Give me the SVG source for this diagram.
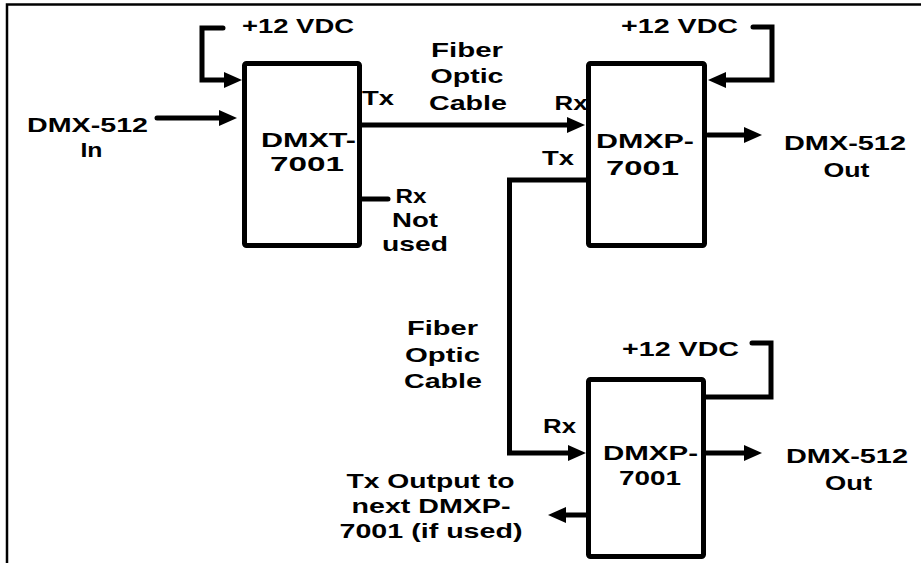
<svg xmlns="http://www.w3.org/2000/svg" width="921" height="563" viewBox="0 0 921 563">
<style>
.t{font-family:"Liberation Sans",Arial,sans-serif;font-weight:bold;font-size:21px;fill:#000;text-anchor:middle}
.ln{fill:none;stroke:#000;stroke-width:5;stroke-linejoin:miter;stroke-linecap:round}
.box{fill:#fff;stroke:#000;stroke-width:5}
.frame{fill:none;stroke:#000;stroke-width:2.5}
</style>
<defs>
<marker id="ah" markerUnits="userSpaceOnUse" markerWidth="18" markerHeight="16" viewBox="0 0 18 16" refX="1" refY="8" orient="auto">
<path d="M0,0 L18,8 L0,16 z" fill="#000"/>
</marker>
</defs>
<rect width="921" height="563" fill="#fff"/>
<path class="frame" d="M7,563 V4.5 H921"/>
<g id="connectors">
<path class="ln" d="M223,28 H202 V80 H225" marker-end="url(#ah)"/>
<path class="ln" d="M157,118 H220" marker-end="url(#ah)"/>
<path class="ln" d="M362,125 H568" marker-end="url(#ah)"/>
<path class="ln" d="M362,199 H388"/>
<path class="ln" d="M753,27 H772 V80 H725" marker-end="url(#ah)"/>
<path class="ln" d="M708,135 H745" marker-end="url(#ah)"/>
<path class="ln" d="M586,180 H509.5 V453 H569" marker-end="url(#ah)"/>
<path class="ln" d="M752,343 H771 V397 H706"/>
<path class="ln" d="M706,453 H745" marker-end="url(#ah)"/>
<path class="ln" d="M586,515 H565" marker-end="url(#ah)"/>
</g>
<g id="dmxt-7001">
<rect class="box" x="244.5" y="63.5" width="115" height="182" rx="2"/>
<text class="t" x="308.5" y="147" textLength="95" lengthAdjust="spacingAndGlyphs">DMXT-</text>
<text class="t" x="307" y="171" textLength="74" lengthAdjust="spacingAndGlyphs">7001</text>
</g>
<g id="dmxp-7001-a">
<rect class="box" x="588.5" y="63.5" width="116" height="182" rx="2"/>
<text class="t" x="645" y="148" textLength="98" lengthAdjust="spacingAndGlyphs">DMXP-</text>
<text class="t" x="642.5" y="175" textLength="73" lengthAdjust="spacingAndGlyphs">7001</text>
</g>
<g id="dmxp-7001-b">
<rect class="box" x="588.5" y="379.5" width="115" height="177" rx="2"/>
<text class="t" x="650.5" y="460" textLength="95" lengthAdjust="spacingAndGlyphs">DMXP-</text>
<text class="t" x="650" y="485" textLength="62" lengthAdjust="spacingAndGlyphs">7001</text>
</g>
<g id="labels">
<text class="t" x="298" y="33" textLength="112" lengthAdjust="spacingAndGlyphs">+12 VDC</text>
<text class="t" x="679.5" y="33" textLength="117" lengthAdjust="spacingAndGlyphs">+12 VDC</text>
<text class="t" x="680.5" y="356" textLength="117" lengthAdjust="spacingAndGlyphs">+12 VDC</text>
<text class="t" x="467" y="57" textLength="72" lengthAdjust="spacingAndGlyphs">Fiber</text>
<text class="t" x="467" y="83" textLength="73" lengthAdjust="spacingAndGlyphs">Optic</text>
<text class="t" x="468" y="110" textLength="78" lengthAdjust="spacingAndGlyphs">Cable</text>
<text class="t" x="378" y="105" textLength="32" lengthAdjust="spacingAndGlyphs">Tx</text>
<text class="t" x="87.5" y="132" textLength="121" lengthAdjust="spacingAndGlyphs">DMX-512</text>
<text class="t" x="91.5" y="157" textLength="22" lengthAdjust="spacingAndGlyphs">In</text>
<text class="t" x="411" y="203" textLength="31" lengthAdjust="spacingAndGlyphs">Rx</text>
<text class="t" x="415" y="227" textLength="46" lengthAdjust="spacingAndGlyphs">Not</text>
<text class="t" x="415" y="251" textLength="66" lengthAdjust="spacingAndGlyphs">used</text>
<text class="t" x="571" y="110" textLength="33" lengthAdjust="spacingAndGlyphs">Rx</text>
<text class="t" x="558" y="165" textLength="32" lengthAdjust="spacingAndGlyphs">Tx</text>
<text class="t" x="845" y="150" textLength="122" lengthAdjust="spacingAndGlyphs">DMX-512</text>
<text class="t" x="846.5" y="177" textLength="46" lengthAdjust="spacingAndGlyphs">Out</text>
<text class="t" x="442.5" y="335" textLength="71" lengthAdjust="spacingAndGlyphs">Fiber</text>
<text class="t" x="442.5" y="362" textLength="75" lengthAdjust="spacingAndGlyphs">Optic</text>
<text class="t" x="443" y="388" textLength="78" lengthAdjust="spacingAndGlyphs">Cable</text>
<text class="t" x="559.5" y="433" textLength="33" lengthAdjust="spacingAndGlyphs">Rx</text>
<text class="t" x="847" y="463" textLength="122" lengthAdjust="spacingAndGlyphs">DMX-512</text>
<text class="t" x="848.5" y="490" textLength="47" lengthAdjust="spacingAndGlyphs">Out</text>
<text class="t" x="430.5" y="488" textLength="168" lengthAdjust="spacingAndGlyphs">Tx Output to</text>
<text class="t" x="431" y="513" textLength="159" lengthAdjust="spacingAndGlyphs">next DMXP-</text>
<text class="t" x="431" y="538" textLength="183" lengthAdjust="spacingAndGlyphs">7001 (if used)</text>
</g>
</svg>
